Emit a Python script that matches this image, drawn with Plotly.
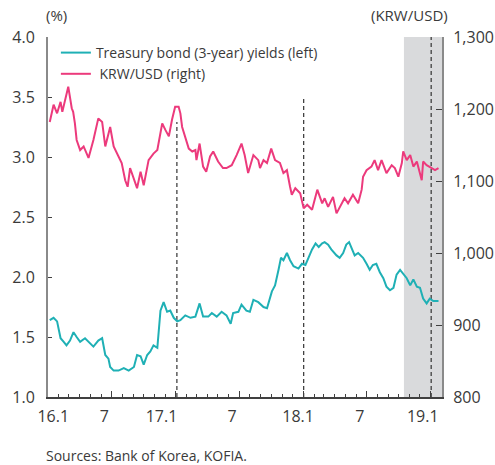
import plotly.graph_objects as go

# Treasury bond (3-year) yields (left axis, %)
bond_dates = ["2016-01-06","2016-01-17","2016-01-27","2016-02-06","2016-02-15","2016-02-23","2016-03-04","2016-03-14",
"2016-03-23","2016-04-02","2016-04-16","2016-04-26","2016-05-10","2016-05-24","2016-06-04","2016-06-13","2016-06-22",
"2016-06-27","2016-07-07","2016-07-21","2016-08-05","2016-08-19","2016-09-03","2016-09-12","2016-09-22","2016-10-01",
"2016-10-11","2016-10-20","2016-10-29","2016-11-09","2016-11-18","2016-11-27","2016-12-07","2016-12-16","2016-12-26",
"2017-01-05","2017-01-14","2017-01-28","2017-02-12","2017-02-26","2017-03-10","2017-03-20","2017-04-04","2017-04-14",
"2017-04-28","2017-05-12","2017-05-26","2017-06-07","2017-06-14","2017-06-29","2017-07-08","2017-07-22","2017-08-01",
"2017-08-11","2017-08-25","2017-09-09","2017-09-19","2017-10-03","2017-10-12","2017-10-22","2017-10-29","2017-11-05",
"2017-11-15","2017-11-24","2017-12-04","2017-12-18","2017-12-28","2018-01-07","2018-01-16","2018-01-26","2018-02-05",
"2018-02-14","2018-02-24","2018-03-03","2018-03-13","2018-03-22","2018-04-06","2018-04-15","2018-04-25","2018-05-04",
"2018-05-12","2018-05-18","2018-05-28","2018-06-07","2018-06-21","2018-07-01","2018-07-10","2018-07-19","2018-07-29",
"2018-08-08","2018-08-18","2018-08-27","2018-09-06","2018-09-16","2018-09-25","2018-10-05","2018-10-14","2018-10-24",
"2018-11-03","2018-11-12","2018-11-22","2018-12-01","2018-12-10","2018-12-20","2018-12-29","2019-01-08","2019-01-23"]
bond_vals = [1.64,1.66,1.63,1.49,1.46,1.43,1.47,1.54,
1.50,1.46,1.49,1.46,1.42,1.47,1.49,1.35,1.32,
1.25,1.22,1.22,1.24,1.22,1.25,1.35,1.34,1.27,
1.35,1.38,1.43,1.41,1.72,1.79,1.71,1.72,1.66,
1.63,1.64,1.68,1.66,1.67,1.78,1.67,1.67,1.70,
1.67,1.71,1.68,1.61,1.70,1.71,1.77,1.72,1.71,
1.81,1.79,1.75,1.74,1.88,1.93,2.06,2.16,2.14,
2.20,2.14,2.09,2.07,2.11,2.10,2.17,2.23,2.28,
2.25,2.28,2.29,2.27,2.23,2.18,2.16,2.20,2.27,
2.29,2.25,2.18,2.20,2.16,2.11,2.06,2.10,2.11,
2.04,1.99,1.92,1.89,1.91,2.02,2.06,2.03,1.99,
1.93,1.98,1.92,1.91,1.82,1.78,1.82,1.80,1.80]

# KRW/USD (right axis)
fx_dates = ["2016-01-06","2016-01-17","2016-01-27","2016-02-06","2016-02-11","2016-02-28","2016-03-09","2016-03-13",
"2016-03-18","2016-03-23","2016-04-02","2016-04-12","2016-04-26","2016-05-10","2016-05-24","2016-06-04","2016-06-13",
"2016-06-27","2016-07-07","2016-07-21","2016-07-30","2016-08-09","2016-08-16","2016-08-23","2016-09-03","2016-09-12",
"2016-09-22","2016-10-01","2016-10-15","2016-10-29","2016-11-09","2016-11-18","2016-11-23","2016-12-02","2016-12-12",
"2016-12-21","2016-12-30","2017-01-09","2017-01-14","2017-01-19","2017-01-28","2017-02-07","2017-02-17","2017-02-26",
"2017-03-01","2017-03-10","2017-03-20","2017-03-29","2017-04-09","2017-04-18","2017-05-02","2017-05-16","2017-05-26",
"2017-06-10","2017-06-24","2017-07-08","2017-07-17","2017-07-27","2017-08-11","2017-08-25","2017-08-30","2017-09-09",
"2017-09-19","2017-10-01","2017-10-12","2017-10-26","2017-11-05","2017-11-15","2017-11-24","2017-11-29","2017-12-09",
"2017-12-23","2018-01-02","2018-01-12","2018-01-26","2018-02-10","2018-02-24","2018-03-03","2018-03-13","2018-03-27",
"2018-04-06","2018-04-20","2018-04-29","2018-05-09","2018-05-23","2018-06-07","2018-06-17","2018-06-21","2018-07-01",
"2018-07-15","2018-07-24","2018-08-03","2018-08-13","2018-08-27","2018-09-11","2018-09-20","2018-09-30","2018-10-10",
"2018-10-14","2018-10-24","2018-11-03","2018-11-12","2018-11-22","2018-12-06","2018-12-10","2018-12-20","2019-01-04",
"2019-01-13","2019-01-23"]
fx_vals = [1182,1206,1194,1210,1196,1231,1201,1196,
1180,1157,1143,1148,1132,1157,1187,1182,1148,
1175,1148,1134,1125,1101,1092,1118,1101,1090,
1113,1094,1129,1138,1143,1171,1180,1171,1162,
1185,1203,1203,1194,1175,1159,1145,1141,1143,
1129,1152,1120,1113,1134,1141,1127,1118,1118,
1122,1136,1152,1136,1111,1136,1129,1118,1129,
1125,1145,1129,1125,1111,1115,1092,1081,1090,
1083,1062,1067,1060,1088,1069,1076,1064,1078,
1055,1067,1076,1069,1081,1069,1088,1106,1115,
1120,1129,1115,1129,1111,1122,1118,1106,1125,
1141,1129,1136,1120,1127,1101,1127,1122,1118,
1115,1118]

x_range = ["2016-01-01", "2019-02-02"]
major_ticks = ["2016-01-01","2016-07-01","2017-01-01","2017-07-01","2018-01-01","2018-07-01","2019-01-01"]
label_pos = ["2016-01-16","2016-06-10","2016-11-21","2017-06-11","2017-12-17","2018-06-12","2018-12-09"]
label_text = ["16.1","7","17.1","7","18.1","7","19.1"]
shade_span = ["2018-10-16", "2019-02-02"]
event_dates = ["2017-01-04", "2018-01-02", "2019-01-02"]
event_tops = [0.764, 0.833, 1.0]

FONT = "Open Sans"
TXT = "#3a3a3a"
TEAL = "#1fb0b5"
PINK = "#ec3a7c"

fig = go.Figure()
fig.add_trace(go.Scatter(x=bond_dates, y=bond_vals, mode="lines", name="Treasury bond (3-year) yields (left)",
                         line=dict(color=TEAL, width=2), yaxis="y"))
fig.add_trace(go.Scatter(x=fx_dates, y=fx_vals, mode="lines", name="\u00a0KRW/USD (right)",
                         line=dict(color=PINK, width=2), yaxis="y2"))
fig.add_trace(go.Scatter(x=[], y=[], xaxis="x2", showlegend=False, hoverinfo="skip"))

shapes = [dict(type="rect", xref="x", yref="paper", x0=shade_span[0], x1=shade_span[1], y0=0, y1=1,
               fillcolor="#d9dadc", line=dict(width=0), layer="below")]
for d, top in zip(event_dates, event_tops):
    shapes.append(dict(type="line", xref="x", yref="paper", x0=d, x1=d, y0=0, y1=top,
                       line=dict(color="#333333", width=1.2, dash="4px,3px"), layer="below"))

fig.update_layout(
    width=495, height=465,
    margin=dict(l=48, r=53, t=37, b=68, autoexpand=False),
    paper_bgcolor="white", plot_bgcolor="rgba(0,0,0,0)",
    font=dict(family=FONT, color=TXT, size=16),
    showlegend=True,
    legend=dict(x=0.02, y=1.0, xanchor="left", yanchor="top", bgcolor="rgba(0,0,0,0)",
                font=dict(size=14, color=TXT), tracegroupgap=0),
    xaxis=dict(type="date", range=x_range, showgrid=False, zeroline=False, automargin=False,
               showline=True, linecolor="#404040", linewidth=1.5,
               tickmode="array", tickvals=major_ticks, ticks="inside", ticklen=6,
               tickcolor="#404040", tickwidth=1, showticklabels=False,
               minor=dict(dtick="M1", tick0="2016-01-01", ticks="inside", ticklen=3.5,
                          tickcolor="#404040", tickwidth=1, showgrid=False)),
    xaxis2=dict(type="date", range=x_range, overlaying="x", anchor="y", side="bottom", automargin=False,
                showgrid=False, zeroline=False, showline=False,
                tickmode="array", tickvals=label_pos, ticktext=label_text, ticks="",
                ticklabelstandoff=8, tickfont=dict(size=16, color=TXT)),
    yaxis=dict(range=[1.0, 4.0], tickmode="array", tickvals=[1.0,1.5,2.0,2.5,3.0,3.5,4.0], automargin=False,
               tickformat=".1f", ticks="inside", ticklen=4, tickcolor="#404040",
               showline=True, linecolor="#8a8a8a", linewidth=2, showgrid=False, zeroline=False,
               ticklabelstandoff=8, tickfont=dict(size=16, color=TXT)),
    yaxis2=dict(range=[800, 1300], overlaying="y", side="right", anchor="x", automargin=False,
                tickmode="array", tickvals=[800,900,1000,1100,1200,1300], tickformat=",",
                ticks="inside", ticklen=6, tickcolor="#404040",
                showline=True, linecolor="#8a8a8a", linewidth=2, showgrid=False, zeroline=False,
                ticklabelstandoff=6, tickfont=dict(size=16, color=TXT)),
    shapes=shapes,
    annotations=[
        dict(text="(%)", xref="paper", yref="paper", x=-0.01, y=1.0, yshift=22, xanchor="left", yanchor="middle",
             showarrow=False, font=dict(size=15, color=TXT)),
        dict(text="(KRW/USD)", xref="paper", yref="paper", x=1.02, y=1.0, yshift=22, xanchor="right", yanchor="middle",
             showarrow=False, font=dict(size=15, color=TXT)),
        dict(text="Sources: Bank of Korea, KOFIA.", xref="paper", yref="paper", x=-0.01, y=0, yshift=-58,
             xanchor="left", yanchor="middle", showarrow=False, font=dict(size=14, color=TXT)),
    ],
)

fig.write_html("out.html")
